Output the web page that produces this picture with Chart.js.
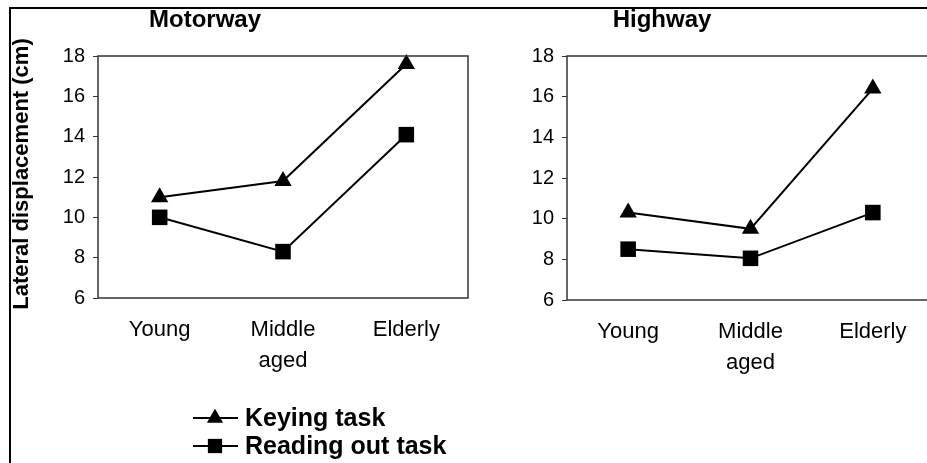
<!DOCTYPE html>
<html>
<head>
<meta charset="utf-8">
<script src="https://cdn.jsdelivr.net/npm/chart.js@4.4.1/dist/chart.umd.min.js"></script>
<style>
    html, body { margin: 0; padding: 0; background: #fff; overflow: hidden; }
    body { width: 927px; height: 463px; position: relative; }
    .frame { position: absolute; left: 9px; top: 7px; width: 940px; height: 470px;
             border-left: 2px solid #000; border-top: 2px solid #000; }
    #leftWrap { position: absolute; left: 0; top: 0; width: 480px; height: 463px; }
    #rightWrap { position: absolute; left: 480px; top: 0; width: 465px; height: 463px; }
</style>
</head>
<body>
<div class="frame"></div>
<div id="leftWrap"><canvas id="motorwayChart"></canvas></div>
<div id="rightWrap"><canvas id="highwayChart"></canvas></div>
<script>
// data
const ageGroups = ['Young', ['Middle', 'aged'], 'Elderly'];
const yTicks = [6, 8, 10, 12, 14, 16, 18];
const seriesNames = ['Keying task', 'Reading out task'];
const motorwayKeying = [11.0, 11.8, 17.6];
const motorwayReading = [10.0, 8.3, 14.1];
const highwayKeying = [10.3, 9.5, 16.4];
const highwayReading = [8.5, 8.05, 10.3];

const FONT = "'Liberation Sans', Arial, sans-serif";

// box around the plot area + panel title, y title and legend
const decorPlugin = {
    id: 'decor',
    afterDraw(chart, args, opts) {
        const ctx = chart.ctx;
        const a = chart.chartArea;
        ctx.save();
        ctx.strokeStyle = '#333';
        ctx.lineWidth = 1.5;
        ctx.strokeRect(a.left, a.top, a.right - a.left, a.bottom - a.top);

        ctx.fillStyle = '#000';
        ctx.font = 'bold 24px ' + FONT;
        ctx.textAlign = 'center';
        ctx.textBaseline = 'middle';
        ctx.fillText(opts.title, a.left + opts.titleOffset, 20);

        if (opts.yTitle) {
            ctx.save();
            ctx.font = 'bold 22px ' + FONT;
            ctx.translate(22, 174);
            ctx.rotate(-Math.PI / 2);
            ctx.fillText(opts.yTitle, 0, 0);
            ctx.restore();
        }

        if (opts.legend) {
            ctx.font = 'bold 25px ' + FONT;
            chart.data.datasets.forEach((ds, i) => {
                const y = 418 + i * 28;
                ctx.strokeStyle = '#000';
                ctx.lineWidth = 2;
                ctx.beginPath();
                ctx.moveTo(193, y);
                ctx.lineTo(238, y);
                ctx.stroke();
                Chart.helpers.drawPoint(ctx, {
                    pointStyle: ds.pointStyle,
                    radius: ds.pointStyle === 'triangle' ? 9 : 10,
                    borderWidth: 0
                }, 215, y);
                ctx.fill();
                ctx.textAlign = 'left';
                ctx.fillText(ds.label, 245, y + 1);
            });
        }
        ctx.restore();
    }
};

function makeDataset(label, data, style) {
    return {
        label: label,
        data: data,
        borderColor: '#000',
        backgroundColor: '#000',
        borderWidth: 2,
        pointStyle: style,
        pointRadius: style === 'triangle' ? 10 : 11,
        pointBorderWidth: 0,
        tension: 0,
        clip: false
    };
}

function makeChart(id, keying, reading, pad, decor) {
    return new Chart(document.getElementById(id), {
        type: 'line',
        data: {
            labels: ageGroups,
            datasets: [
                makeDataset(seriesNames[0], keying, 'triangle'),
                makeDataset(seriesNames[1], reading, 'rect')
            ]
        },
        options: {
            responsive: true,
            maintainAspectRatio: false,
            animation: false,
            layout: { padding: pad },
            plugins: {
                legend: { display: false },
                tooltip: { enabled: false },
                decor: decor
            },
            scales: {
                x: {
                    offset: true,
                    grid: { display: false },
                    border: { display: false },
                    ticks: {
                        color: '#000',
                        font: { family: FONT, size: 22, lineHeight: 1.4 },
                        padding: 9,
                        maxRotation: 0
                    },
                    afterFit: (scale) => { scale.height = 90; }
                },
                y: {
                    min: 6,
                    max: 18,
                    afterBuildTicks: (scale) => {
                        scale.ticks = yTicks.map(v => ({ value: v }));
                    },
                    grid: {
                        drawOnChartArea: false,
                        tickLength: 5,
                        color: '#333'
                    },
                    border: { display: false },
                    ticks: {
                        color: '#000',
                        font: { family: FONT, size: 20 },
                        padding: 8
                    },
                    afterFit: (scale) => { scale.width = 45; }
                }
            }
        },
        plugins: [decorPlugin]
    });
}

makeChart('motorwayChart', motorwayKeying, motorwayReading,
    { left: 53, top: 56, right: 12, bottom: 75 },
    { title: 'Motorway', titleOffset: 107, yTitle: 'Lateral displacement (cm)', legend: true });

makeChart('highwayChart', highwayKeying, highwayReading,
    { left: 42, top: 56, right: 8, bottom: 73 },
    { title: 'Highway', titleOffset: 95 });
</script>
</body>
</html>
